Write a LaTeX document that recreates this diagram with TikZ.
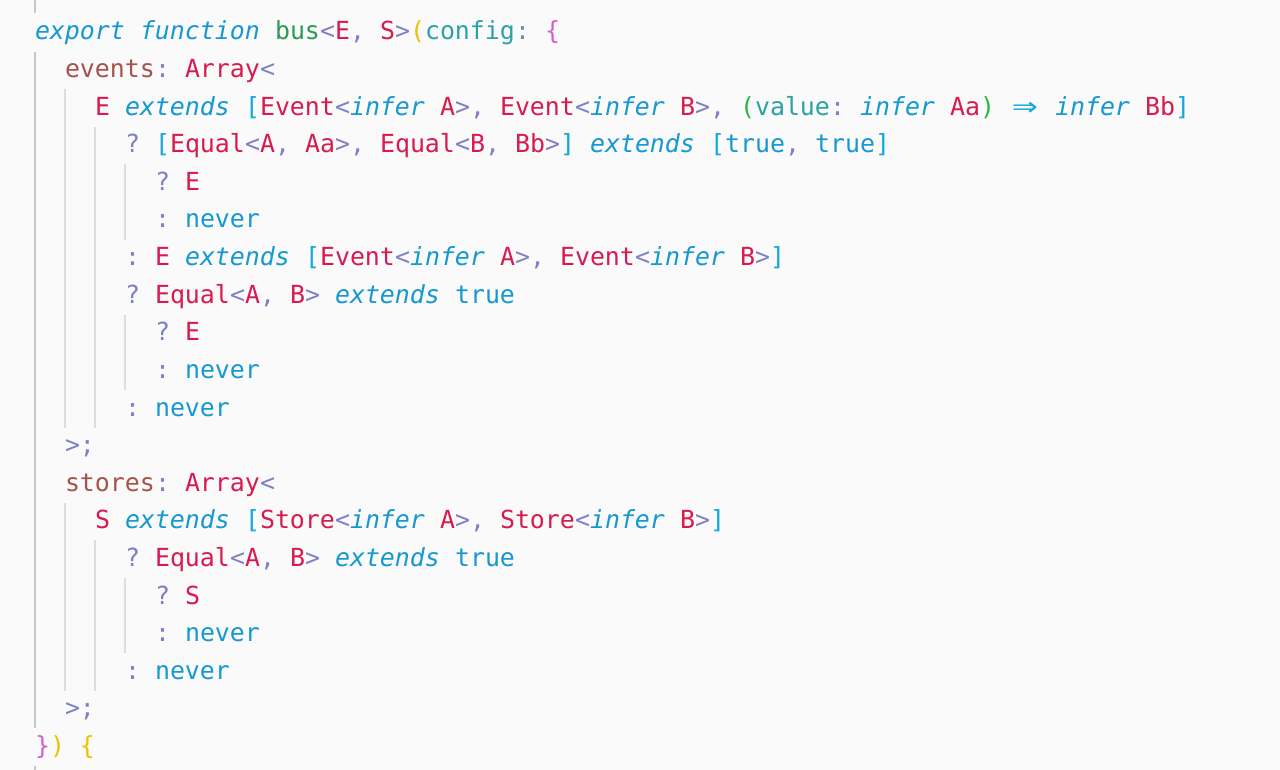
\documentclass[tikz,border=0pt]{standalone}
\usepackage{fontspec}
\usepackage{graphicx}
\newfontfamily\codefont{DejaVu Sans Mono}
\newfontfamily\arrowfont{DejaVu Sans}
\definecolor{bg}{HTML}{FAFAFA}
\definecolor{ckw}{HTML}{1698D0}
\definecolor{cty}{HTML}{D81A50}
\definecolor{cpn}{HTML}{7E80C6}
\definecolor{cfn}{HTML}{2A9A55}
\definecolor{ctl}{HTML}{2AA2A6}
\definecolor{cbn}{HTML}{A5544B}
\definecolor{cyl}{HTML}{F0C000}
\definecolor{cpk}{HTML}{D45FCF}
\definecolor{cgr}{HTML}{28B83C}
\definecolor{ccy}{HTML}{12A8DC}
\definecolor{gdark}{HTML}{C8C8C8}
\definecolor{glight}{HTML}{DDDDDD}
\newcommand\Kw[1]{\textcolor{ckw}{\itshape #1}}
\newcommand\Kv[1]{\textcolor{ckw}{#1}}
\newcommand\Ty[1]{\textcolor{cty}{#1}}
\newcommand\Pn[1]{\textcolor{cpn}{#1}}
\newcommand\Fn[1]{\textcolor{cfn}{#1}}
\newcommand\Tl[1]{\textcolor{ctl}{#1}}
\newcommand\Bn[1]{\textcolor{cbn}{#1}}
\newcommand\Yl[1]{\textcolor{cyl}{#1}}
\newcommand\Pk[1]{\textcolor{cpk}{#1}}
\newcommand\Gr[1]{\textcolor{cgr}{#1}}
\newcommand\Cy[1]{\textcolor{ccy}{#1}}
\newcommand\Arr{\makebox[30pt][c]{\textcolor{ccy}{\arrowfont\scalebox{1.25}[1]{⇒}}}}
\begin{document}
\begin{tikzpicture}[x=1pt,y=-1pt,
  code/.style={anchor=base west,inner sep=0pt,outer sep=0pt,
    font=\codefont\fontsize{24.915pt}{37.6pt}\selectfont\frenchspacing},
  guide/.style={draw=glight,line width=1.2pt},
  guidemain/.style={draw=gdark,line width=1.6pt}]
\useasboundingbox[fill=bg] (0,0) rectangle (1280,770);
% indent guides
\draw[guidemain] (35,0) -- (35,13.5);
\draw[guidemain] (35,51.6) -- (35,728.4);
\draw[guidemain] (35,766) -- (35,770);
\draw[guide] (65,89.2) -- (65,427.6);
\draw[guide] (65,502.8) -- (65,690.8);
\draw[guide] (95,126.8) -- (95,427.6);
\draw[guide] (95,540.4) -- (95,690.8);
\draw[guide] (125,164.4) -- (125,239.6);
\draw[guide] (125,314.8) -- (125,390);
\draw[guide] (125,578) -- (125,653.2);
% code lines
\node[code] (l1) at (35,40) {\Kw{export} \Kw{function} \Fn{bus}\Pn{<}\Ty{E}\Pn{,} \Ty{S}\Pn{>}\Yl{(}\Tl{config}\Pn{:} \Pk{\{}};
\node[code] (l2) at (65,77.6) {\Bn{events}\Pn{:} \Ty{Array}\Pn{<}};
\node[code] (l3) at (95,115.2) {\Ty{E} \Kw{extends} \Cy{[}\Ty{Event}\Pn{<}\Kw{infer} \Ty{A}\Pn{>,} \Ty{Event}\Pn{<}\Kw{infer} \Ty{B}\Pn{>,} \Gr{(}\Tl{value}\Pn{:} \Kw{infer} \Ty{Aa}\Gr{)} \Arr{} \Kw{infer} \Ty{Bb}\Cy{]}};
\node[code] (l4) at (125,152.8) {\Pn{?} \Cy{[}\Ty{Equal}\Pn{<}\Ty{A}\Pn{,} \Ty{Aa}\Pn{>,} \Ty{Equal}\Pn{<}\Ty{B}\Pn{,} \Ty{Bb}\Pn{>}\Cy{]} \Kw{extends} \Cy{[}\Kv{true}\Pn{,} \Kv{true}\Cy{]}};
\node[code] (l5) at (155,190.4) {\Pn{?} \Ty{E}};
\node[code] (l6) at (155,228) {\Pn{:} \Kv{never}};
\node[code] (l7) at (125,265.6) {\Pn{:} \Ty{E} \Kw{extends} \Cy{[}\Ty{Event}\Pn{<}\Kw{infer} \Ty{A}\Pn{>,} \Ty{Event}\Pn{<}\Kw{infer} \Ty{B}\Pn{>}\Cy{]}};
\node[code] (l8) at (125,303.2) {\Pn{?} \Ty{Equal}\Pn{<}\Ty{A}\Pn{,} \Ty{B}\Pn{>} \Kw{extends} \Kv{true}};
\node[code] (l9) at (155,340.8) {\Pn{?} \Ty{E}};
\node[code] (l10) at (155,378.4) {\Pn{:} \Kv{never}};
\node[code] (l11) at (125,416) {\Pn{:} \Kv{never}};
\node[code] (l12) at (65,453.6) {\Pn{>;}};
\node[code] (l13) at (65,491.2) {\Bn{stores}\Pn{:} \Ty{Array}\Pn{<}};
\node[code] (l14) at (95,528.8) {\Ty{S} \Kw{extends} \Cy{[}\Ty{Store}\Pn{<}\Kw{infer} \Ty{A}\Pn{>,} \Ty{Store}\Pn{<}\Kw{infer} \Ty{B}\Pn{>}\Cy{]}};
\node[code] (l15) at (125,566.4) {\Pn{?} \Ty{Equal}\Pn{<}\Ty{A}\Pn{,} \Ty{B}\Pn{>} \Kw{extends} \Kv{true}};
\node[code] (l16) at (155,604) {\Pn{?} \Ty{S}};
\node[code] (l17) at (155,641.6) {\Pn{:} \Kv{never}};
\node[code] (l18) at (125,679.2) {\Pn{:} \Kv{never}};
\node[code] (l19) at (65,716.8) {\Pn{>;}};
\node[code] (l20) at (35,754.4) {\Pk{\}}\Yl{) \{}};
\end{tikzpicture}
\end{document}
